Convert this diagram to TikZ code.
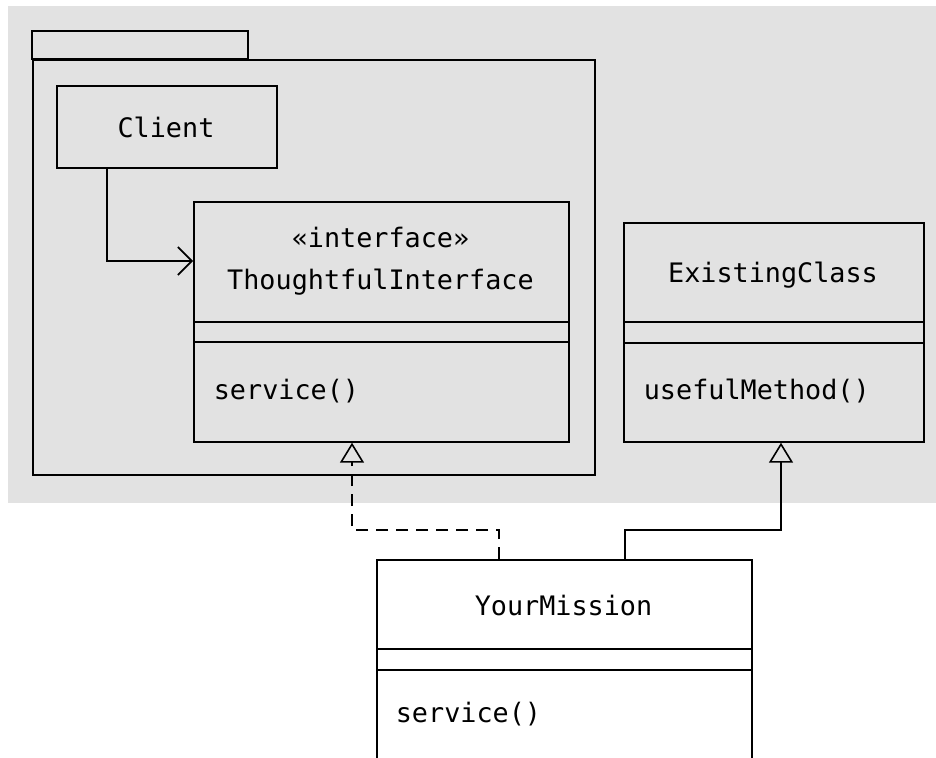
\documentclass[tikz,border=0pt]{standalone}
\usepackage{fontspec}
\setmainfont{DejaVu Sans Mono}
\usetikzlibrary{arrows.meta}
\definecolor{bggray}{RGB}{226,226,226}
\begin{document}
\begin{tikzpicture}[x=1pt,y=-1pt,line width=1.7pt,
  box/.style={draw,rectangle,anchor=north west,inner sep=0pt},
  lbl/.style={font=\fontsize{26.8}{30}\selectfont,inner sep=0pt},
  gen/.style={-{Triangle[open,length=20pt,width=24pt,line width=1.6pt]}},
  dep/.style={-{Straight Barb[length=14pt,width=28pt,line width=1.6pt]}},
  dsh/.style={dash pattern=on 12pt off 8pt}]
\useasboundingbox (0,0) rectangle (936,757);
\fill[bggray] (8,6) rectangle (936,503);
% package
\draw (32,31) rectangle (248,59);
\node[box,minimum width=562pt,minimum height=415pt] (pkg) at (32,59) {};
% Client
\node[box,minimum width=220pt,minimum height=82pt] (client) at (56,85) {};
\node[lbl,anchor=base] (clientname) at (166,137) {Client};
% ThoughtfulInterface
\node[box,minimum width=375pt,minimum height=240pt] (ti) at (193,201) {};
\node[lbl,anchor=base] (tistereo) at (380.5,247) {«interface»};
\node[lbl,anchor=base] (tiname) at (380.5,289) {ThoughtfulInterface};
\draw (ti.west |- 0,322) -- (ti.east |- 0,322);
\draw (ti.west |- 0,342) -- (ti.east |- 0,342);
\node[lbl,anchor=base west] (tiop) at (213,399) {service()};
% ExistingClass
\node[box,minimum width=300pt,minimum height=219pt] (ec) at (623,222) {};
\node[lbl,anchor=base] (ecname) at (773,282) {ExistingClass};
\draw (ec.west |- 0,322) -- (ec.east |- 0,322);
\draw (ec.west |- 0,343) -- (ec.east |- 0,343);
\node[lbl,anchor=base west] (ecop) at (643,399) {usefulMethod()};
% YourMission
\node[box,fill=white,minimum width=375pt,minimum height=240pt] (ym) at (376,559) {};
\node[lbl,anchor=base] (ymname) at (563.5,615) {YourMission};
\draw (ym.west |- 0,649) -- (ym.east |- 0,649);
\draw (ym.west |- 0,670) -- (ym.east |- 0,670);
\node[lbl,anchor=base west] (ymop) at (395,722) {service()};
% connectors
\coordinate (c1) at (107,261);
\draw[dep] (client.south -| c1) -- (c1) -- (ti.west |- c1);
\coordinate (d1) at (499,530);
\coordinate (d2) at (352,530);
\draw[gen,dsh] (ym.north -| d1) -- (d1) -- (d2) -- (ti.south -| d2);
\coordinate (s1) at (625,530);
\coordinate (s2) at (781,530);
\draw[gen] (ym.north -| s1) -- (s1) -- (s2) -- (ec.south -| s2);
\end{tikzpicture}
\end{document}
